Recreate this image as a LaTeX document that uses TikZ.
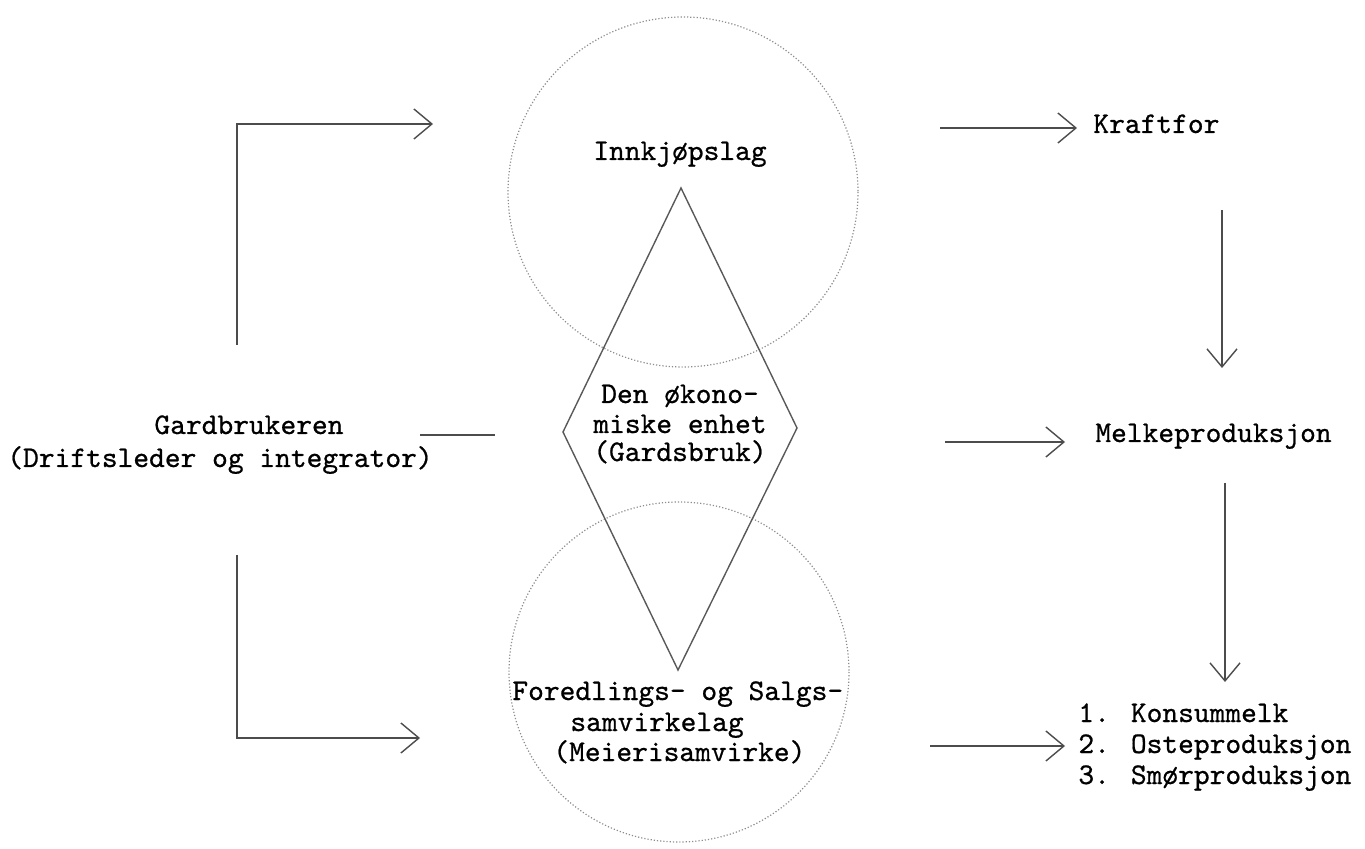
\documentclass[tikz,border=0pt]{standalone}
\usepackage{fontspec}
\newfontfamily\twfont{lmmono10-regular.otf}[FakeBold=0.7]
\usetikzlibrary{arrows.meta}
\tikzset{
  txt/.style={font=\twfont\fontsize{15.0}{16}\selectfont, inner sep=0pt, text=black},
  conn/.style={draw=black!70, line width=0.6pt},
  arr/.style={conn, -{Straight Barb[length=9pt,width=15pt,line width=0.7pt]}},
  ring/.style={draw=black!45, line width=0.6pt, densely dotted},
  dia/.style={draw=black!65, line width=0.7pt, line join=miter}
}
\begin{document}
\begin{tikzpicture}[x=0.5pt,y=-0.5pt]
\useasboundingbox (0,0) rectangle (1365,849);
% circles
\draw[ring] (683,192) circle[radius=175];
\draw[ring] (679,672) circle[radius=170];
% diamond
\coordinate (dT) at (681,188);
\coordinate (dL) at (563,432);
\coordinate (dB) at (678,670);
\coordinate (dR) at (797,428);
\draw[dia] (dT) -- (dR) -- (dB) -- (dL) -- cycle;
% texts
\node[txt, anchor=base] (innk) at (680,160) {Innkjøpslag};
\node[txt, anchor=base] (den1) at (680,403) {Den økono-};
\node[txt, anchor=base] (den2) at (680,433) {miske enhet};
\node[txt, anchor=base] (den3) at (680,461) {(Gardsbruk)};
\node[txt, anchor=base] (gard1) at (249,434) {Gardbrukeren};
\node[txt, anchor=base] (gard2) at (220,467) {(Driftsleder og integrator)};
\node[txt, anchor=base west] (kraft) at (1093,133) {Kraftfor};
\node[txt, anchor=base west] (melk) at (1095,442) {Melkeproduksjon};
\node[txt, anchor=base west] (k1) at (1078,722) {1. Konsummelk};
\node[txt, anchor=base west] (k2) at (1078,753) {2. Osteproduksjon};
\node[txt, anchor=base west] (k3) at (1078,784) {3. Smørproduksjon};
\node[txt, anchor=base west] (for1) at (512,700) {Foredlings- og Salgs-};
\node[txt, anchor=base west] (for2) at (570,731) {samvirkelag};
\node[txt, anchor=base west] (for3) at (553,761) {(Meierisamvirke)};
% connectors
\coordinate (tl0) at (237,345);
\coordinate (tl1) at (237,124);
\coordinate (tl2) at (433,124);
\draw[arr] (tl0) -- (tl1) -- (tl2);
\coordinate (bl0) at (237,555);
\coordinate (bl1) at (237,738);
\coordinate (bl2) at (420,738);
\draw[arr] (bl0) -- (bl1) -- (bl2);
\coordinate (gl0) at (420,435);
\coordinate (gl1) at (495,435);
\draw[conn] (gl0) -- (gl1);
\coordinate (ka0) at (940,128);
\coordinate (ka1) at (1077,128);
\draw[arr] (ka0) -- (ka1);
\coordinate (me0) at (945,442);
\coordinate (me1) at (1065,442);
\coordinate (os0) at (930,746);
\coordinate (os1) at (1065,746);
\draw[arr] (me0) -- (me1);
\draw[arr] (os0) -- (os1);
\coordinate (v10) at (1222,210);
\coordinate (v11) at (1222,368);
\coordinate (v20) at (1225,483);
\coordinate (v21) at (1225,682);
\draw[arr] (v10) -- (v11);
\draw[arr] (v20) -- (v21);
\end{tikzpicture}
\end{document}
